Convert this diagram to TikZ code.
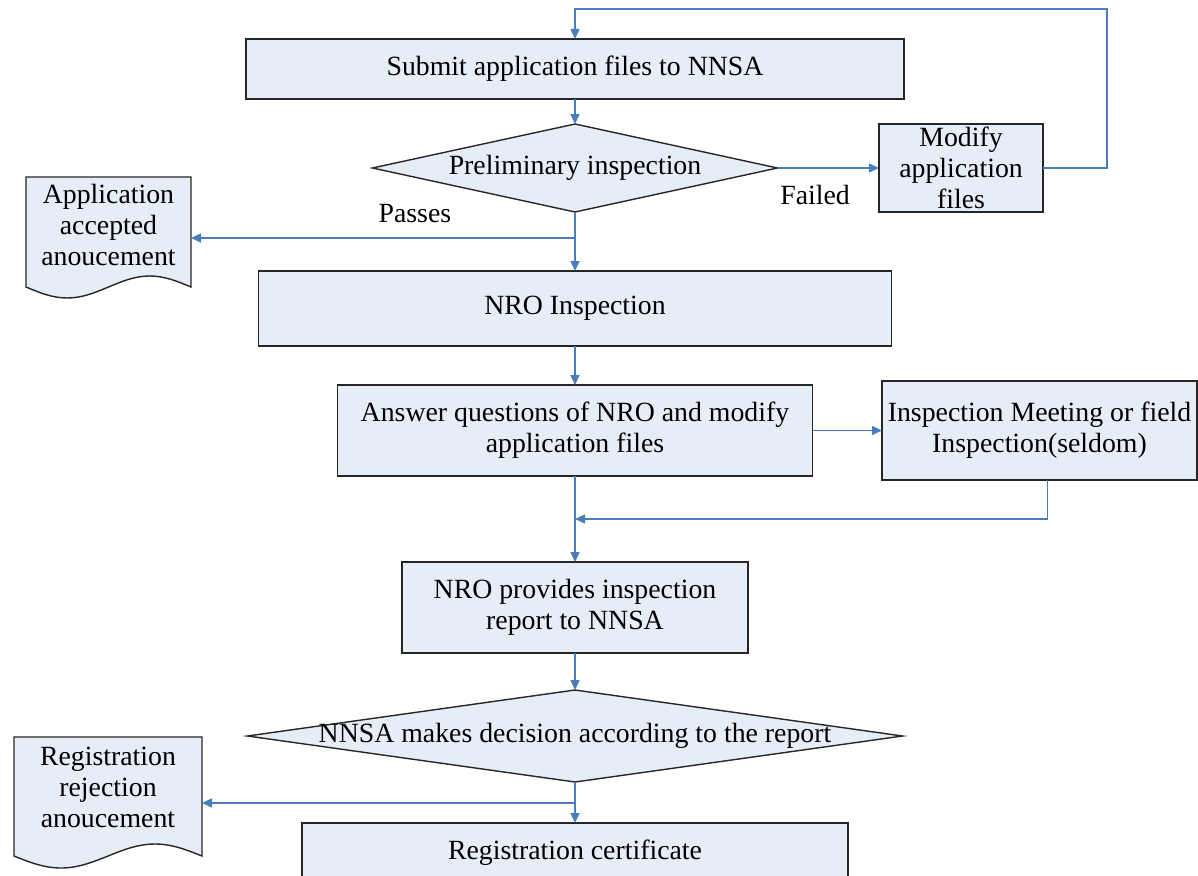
\documentclass[tikz,border=0pt]{standalone}
\usepackage{fontspec}
\setmainfont{Liberation Serif}
\usetikzlibrary{positioning, arrows.meta, shapes.geometric, backgrounds}

\definecolor{boxfill}{RGB}{231,237,247}
\definecolor{flowblue}{RGB}{74,126,187}

\begin{document}
\begin{tikzpicture}
[
    x=1pt, y=-1pt, on grid,
    font=\fontsize{27.8}{31}\selectfont,
    box_node/.style={rectangle, draw=black!85, fill=boxfill, line width=1.4pt, align=center, inner sep=0pt, outer sep=0pt},
    decision_node/.style={diamond, draw=black!85, fill=boxfill, line width=1.4pt, inner sep=0pt, outer sep=0pt},
    doc_node/.style={rectangle, align=center, inner sep=0pt, outer sep=0pt},
    doc_line/.style={draw=black!85, fill=boxfill, line width=1.4pt},
    flow/.style={-{Triangle[length=10pt, width=9pt]}, draw=flowblue, line width=1.4pt},
    edge_label/.style={inner sep=0pt},
]
    \useasboundingbox (0,0) rectangle (1198,875);
    \clip (0,0) rectangle (1198,875);

    \node[box_node, minimum width=658pt, minimum height=60pt] (submit) at (575,69) {Submit application files to NNSA} ;
    \node[decision_node, minimum width=405pt, minimum height=88pt] (prelim) [below = 99pt of submit] {\makebox[0pt]{Preliminary inspection}} ;
    \node[box_node, minimum width=164pt, minimum height=88pt] (modify) [right = 386pt of prelim] {Modify\\application\\files} ;
    \node[doc_node, minimum width=165pt, minimum height=96pt] (appdoc) [below left = 57pt and 466.5pt of prelim] {Application\\accepted\\anoucement} ;
    \node[box_node, minimum width=633pt, minimum height=75pt] (nro) [below = 140.5pt of prelim] {NRO Inspection} ;
    \node[box_node, minimum width=475pt, minimum height=91pt] (answer) [below = 122pt of nro] {Answer questions of NRO and modify\\application files} ;
    \node[box_node, minimum width=315pt, minimum height=99pt] (inspect) [right = 464.5pt of answer] {Inspection Meeting or field\\Inspection(seldom)} ;
    \node[box_node, minimum width=346pt, minimum height=91pt] (provides) [below = 177pt of answer] {NRO provides inspection\\report to NNSA} ;
    \node[decision_node, minimum width=655pt, minimum height=92pt] (decide) [below = 128.5pt of provides] {\makebox[0pt]{NNSA makes decision according to the report}} ;
    \node[doc_node, minimum width=188pt, minimum height=100pt] (rejectdoc) [below left = 51pt and 467pt of decide] {Registration\\rejection\\anoucement} ;
    \node[box_node, minimum width=546pt, minimum height=60pt] (cert) [below = 117pt of decide] {Registration certificate} ;

    % document outlines with the wavy bottom
    \begin{scope}[on background layer]
        \draw[doc_line] (appdoc.north west) -- ([yshift=-14pt]appdoc.south west) sin ++(41.25,11) cos ++(41.25,-11) sin ++(41.25,-11) cos ++(41.25,11) -- (appdoc.north east) -- cycle ;
        \draw[doc_line] (rejectdoc.north west) -- ([yshift=-19pt]rejectdoc.south west) sin ++(47,12) cos ++(47,-12) sin ++(47,-12) cos ++(47,12) -- (rejectdoc.north east) -- cycle ;
    \end{scope}

    \coordinate (loopturn) at (1107,9) ;
    \coordinate[below = 26pt of prelim.south] (passjoin) ;
    \coordinate[below = 43pt of answer.south] (merge) ;
    \coordinate[below = 21pt of decide.south] (rejoin) ;

    \draw[flow] (submit) -- (prelim) ;
    \draw[flow] (prelim) -- (nro) ;
    \draw[flow] (passjoin) -- (passjoin -| appdoc.east) node[edge_label, pos=0.417, above=15pt] {Passes} ;
    \draw[flow] (prelim) -- (modify) node[edge_label, pos=0.37, below=17pt] {Failed} ;
    \draw[flow] (modify) -| (loopturn) -| (submit) ;
    \draw[flow] (nro) -- (answer) ;
    \draw[flow] (answer) -- (inspect) ;
    \draw[flow] ([xshift=8pt]inspect.south) |- (merge) ;
    \draw[flow] (answer) -- (provides) ;
    \draw[flow] (provides) -- (decide) ;
    \draw[flow] (decide) -- (cert) ;
    \draw[flow] (rejoin) -- (rejoin -| rejectdoc.east) ;
\end{tikzpicture}
\end{document}
